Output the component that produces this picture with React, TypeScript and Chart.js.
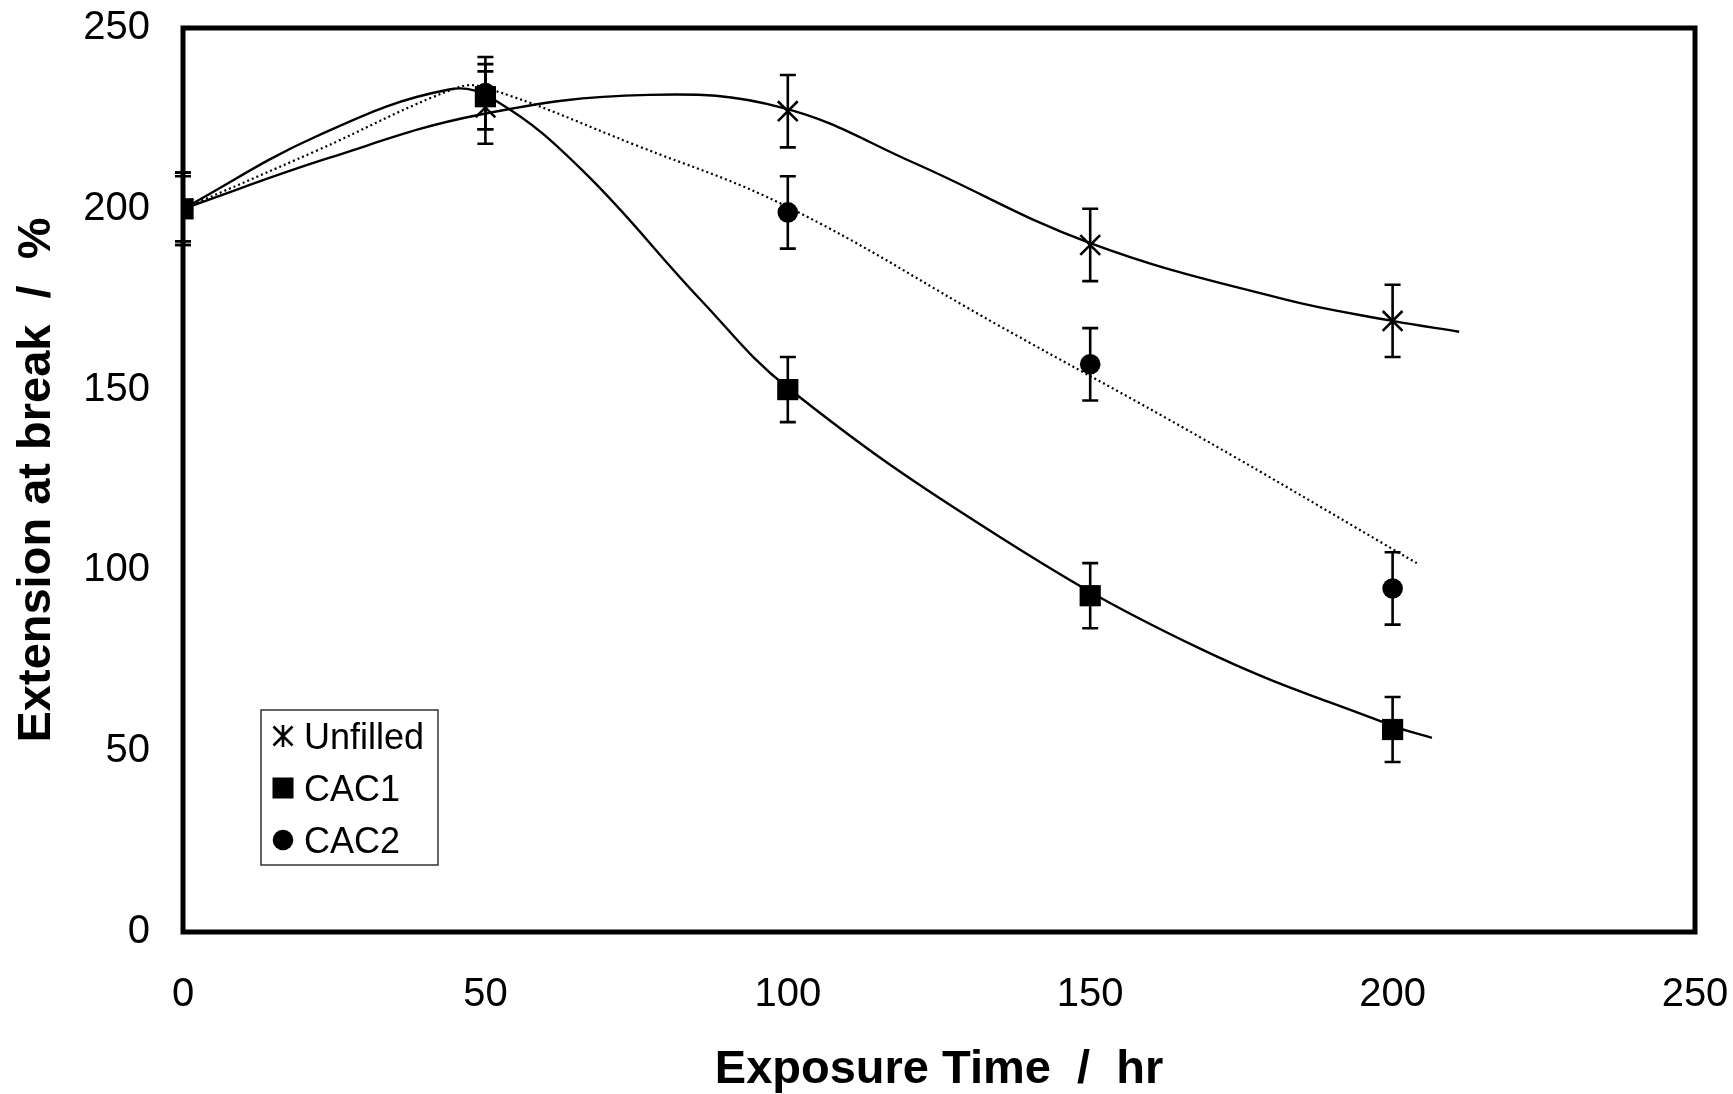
import React, { useEffect, useRef } from 'react';
import { Chart, registerables } from 'chart.js';

Chart.register(...registerables);

// ---- data ----
const exposureTimes = [0, 50, 100, 150, 200];
const unfilledValues = [200, 228, 227, 190, 169];
const cac1Values = [200, 231, 150, 93, 56];
const cac2Values = [200, 232, 199, 157, 95];
const unfilledErrors = [10, 10, 10, 10, 10];
const cac1Errors = [9, 9, 9, 9, 9];
const cac2Errors = [10, 10, 10, 10, 10];
const axisTicks = [0, 50, 100, 150, 200, 250];

// trend curves
const unfilledFitX = [0, 24, 49, 77, 99, 121, 150, 182, 200, 211];
const unfilledFitY = [200, 214, 226, 231.5, 228, 212.6, 190.5, 175, 169, 166];
const cac1FitX = [0, 22, 44, 52, 66, 85.5, 100, 135, 168, 200, 206.5];
const cac1FitY = [200, 220, 233, 229.6, 210.7, 175, 150.5, 109.3, 78.5, 57, 53.7];
const cac2FitX = [0, 22, 45, 50, 75, 100, 135, 168, 204];
const cac2FitY = [200, 216, 233.3, 233.5, 217.5, 200.5, 167.6, 137, 102];

const seriesLabels = ['Unfilled', 'CAC1', 'CAC2'];
const xTitle = 'Exposure Time  /  hr';
const yTitle = 'Extension at break  /  %';

const FONT = '"Liberation Sans", Arial, sans-serif';

const toPoints = (xs: number[], ys: number[]) => xs.map((x, i) => ({ x, y: ys[i] }));

function drawMarker(ctx: CanvasRenderingContext2D, style: string, x: number, y: number) {
  ctx.save();
  ctx.fillStyle = '#000';
  ctx.strokeStyle = '#000';
  if (style === 'rect') {
    ctx.fillRect(x - 10.5, y - 10.5, 21, 21);
  } else if (style === 'circle') {
    ctx.beginPath();
    ctx.arc(x, y, 10.3, 0, Math.PI * 2);
    ctx.fill();
  } else {
    ctx.lineWidth = 2.6;
    ctx.beginPath();
    ctx.moveTo(x - 9.5, y - 9.5);
    ctx.lineTo(x + 9.5, y + 9.5);
    ctx.moveTo(x + 9.5, y - 9.5);
    ctx.lineTo(x - 9.5, y + 9.5);
    ctx.moveTo(x, y - 11);
    ctx.lineTo(x, y + 11);
    ctx.stroke();
  }
  ctx.restore();
}

const errorBarPlugin = {
  id: 'errorBars',
  afterDatasetsDraw(chart: any) {
    const { ctx, scales } = chart;
    const xs = scales.x;
    const ys = scales.y;
    ctx.save();
    ctx.strokeStyle = '#000';
    ctx.lineWidth = 2.6;
    chart.data.datasets.forEach((ds: any) => {
      if (!ds.errors) return;
      ds.data.forEach((pt: any, i: number) => {
        const px = xs.getPixelForValue(pt.x);
        const top = ys.getPixelForValue(pt.y + ds.errors[i]);
        const bot = ys.getPixelForValue(pt.y - ds.errors[i]);
        ctx.beginPath();
        ctx.moveTo(px, top);
        ctx.lineTo(px, bot);
        ctx.moveTo(px - 8, top);
        ctx.lineTo(px + 8, top);
        ctx.moveTo(px - 8, bot);
        ctx.lineTo(px + 8, bot);
        ctx.stroke();
      });
    });
    ctx.restore();
  },
};

const framePlugin = {
  id: 'frameAndTitles',
  afterDraw(chart: any) {
    const { ctx, chartArea: ca } = chart;
    ctx.save();
    ctx.strokeStyle = '#000';
    ctx.lineWidth = 5;
    ctx.strokeRect(ca.left, ca.top, ca.right - ca.left, ca.bottom - ca.top);

    // axis titles
    ctx.fillStyle = '#000';
    ctx.font = `bold 47px ${FONT}`;
    ctx.textAlign = 'center';
    ctx.textBaseline = 'alphabetic';
    ctx.fillText(xTitle, (ca.left + ca.right) / 2, ca.bottom + 151);

    ctx.save();
    ctx.translate(50, (ca.top + ca.bottom) / 2);
    ctx.rotate(-Math.PI / 2);
    ctx.font = `bold 47px ${FONT}`;
    ctx.fillText(yTitle, 0, 0);
    ctx.restore();

    // legend
    const bx = ca.left + 78;
    const by = ca.top + 682;
    const bw = 177;
    const bh = 155;
    ctx.fillStyle = '#fff';
    ctx.fillRect(bx, by, bw, bh);
    ctx.strokeStyle = '#333';
    ctx.lineWidth = 1.5;
    ctx.strokeRect(bx, by, bw, bh);
    const styles = ['crossRot', 'rect', 'circle'];
    ctx.font = `36px ${FONT}`;
    ctx.textAlign = 'left';
    ctx.textBaseline = 'alphabetic';
    seriesLabels.forEach((label, i) => {
      const cy = by + 26 + i * 52;
      drawMarker(ctx, styles[i], bx + 22, cy);
      ctx.fillStyle = '#000';
      ctx.fillText(label, bx + 43, cy + 13);
    });
    ctx.restore();
  },
};

export default function App() {
  const canvasRef = useRef<HTMLCanvasElement | null>(null);

  useEffect(() => {
    if (!canvasRef.current) return;
    const curveBase = {
      type: 'line' as const,
      showLine: true,
      pointRadius: 0,
      borderColor: '#000',
      borderWidth: 2.4,
      tension: 0.4,
      fill: false,
    };
    const chart = new Chart(canvasRef.current, {
      type: 'scatter',
      data: {
        datasets: [
          { ...curveBase, label: 'Unfilled fit', data: toPoints(unfilledFitX, unfilledFitY) },
          { ...curveBase, label: 'CAC1 fit', data: toPoints(cac1FitX, cac1FitY) },
          {
            ...curveBase,
            label: 'CAC2 fit',
            data: toPoints(cac2FitX, cac2FitY),
            borderWidth: 2.2,
            borderDash: [2, 3],
          },
          {
            label: seriesLabels[0],
            data: toPoints(exposureTimes, unfilledValues),
            errors: unfilledErrors,
            showLine: false,
            pointStyle: 'crossRot',
            pointRadius: 14,
            borderWidth: 2.6,
            borderColor: '#000',
            backgroundColor: '#000',
          } as any,
          {
            label: seriesLabels[1],
            data: toPoints(exposureTimes, cac1Values),
            errors: cac1Errors,
            showLine: false,
            pointStyle: 'rect',
            pointRadius: 15,
            borderWidth: 0,
            borderColor: '#000',
            backgroundColor: '#000',
          } as any,
          {
            label: seriesLabels[2],
            data: toPoints(exposureTimes, cac2Values),
            errors: cac2Errors,
            showLine: false,
            pointStyle: 'circle',
            pointRadius: 10.3,
            borderWidth: 0,
            borderColor: '#000',
            backgroundColor: '#000',
          } as any,
        ],
      },
      options: {
        animation: false,
        responsive: true,
        maintainAspectRatio: false,
        events: [],
        layout: { padding: { left: 0, top: 28, right: 38, bottom: 0 } },
        plugins: {
          legend: { display: false },
          tooltip: { enabled: false },
        },
        scales: {
          x: {
            type: 'linear',
            min: 0,
            max: 250,
            afterBuildTicks: (s: any) => {
              s.ticks = axisTicks.map((v) => ({ value: v }));
            },
            afterFit: (s: any) => {
              s.height = 162;
              s.paddingLeft = 0;
              s.paddingRight = 0;
            },
            grid: { display: false, drawTicks: false },
            border: { display: false },
            ticks: {
              color: '#000',
              padding: 39,
              maxRotation: 0,
              font: { family: FONT, size: 40 },
            },
          },
          y: {
            type: 'linear',
            min: 0,
            max: 250,
            afterBuildTicks: (s: any) => {
              s.ticks = axisTicks.map((v) => ({ value: v }));
            },
            afterFit: (s: any) => {
              s.width = 183;
              s.paddingTop = 0;
              s.paddingBottom = 0;
            },
            grid: { display: false, drawTicks: false },
            border: { display: false },
            ticks: {
              color: '#000',
              padding: 33,
              font: { family: FONT, size: 40 },
            },
          },
        },
      },
      plugins: [errorBarPlugin, framePlugin],
    } as any);
    return () => chart.destroy();
  }, []);

  return (
    <div
      style={{
        position: 'fixed',
        left: 0,
        top: 0,
        width: 1733,
        height: 1094,
        background: '#fff',
      }}
    >
      <canvas ref={canvasRef} />
    </div>
  );
}
